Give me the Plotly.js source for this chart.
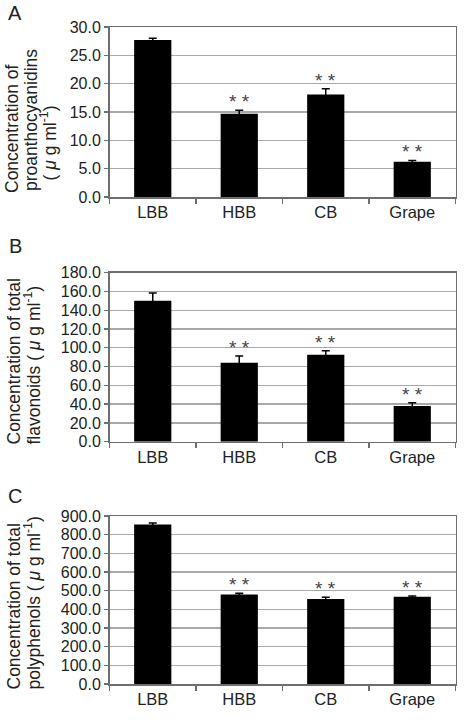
<!DOCTYPE html>
<html>
<head>
<meta charset="utf-8">
<script src="https://cdn.plot.ly/plotly-3.0.1.min.js"></script>
<style>
  html, body { margin: 0; padding: 0; background: #fff; }
  #chart { width: 465px; height: 723px; }
</style>
</head>
<body>
<div id="chart"></div>
<script>
// Sample groups
const categories = ['LBB', 'HBB', 'CB', 'Grape'];

// A: proanthocyanidins (µg/ml), mean and SD
const proanthocyanidins   = [27.7, 14.7, 18.1, 6.2];
const proanthocyanidinsSD = [0.3, 0.6, 1.0, 0.25];

// B: total flavonoids (µg/ml)
const flavonoids   = [150.2, 84.1, 92.7, 38.0];
const flavonoidsSD = [8.3, 7.2, 4.2, 3.5];

// C: total polyphenols (µg/ml)
const polyphenols   = [855, 480, 455, 467];
const polyphenolsSD = [8, 6, 10, 5];

// Significance markers vs. LBB
const significance = ['', '**', '**', '**'];

// Panel letters and y-axis title lines
const unit = '( <i>\u03BC</i> g ml<sup>-1</sup>)';
const panelLetters = ['A', 'B', 'C'];
const titleLinesA = ['Concentration of', 'proanthocyanidins', unit];
const titleLinesB = ['Concentration of total', 'flavonoids ' + unit];
const titleLinesC = ['Concentration of total', 'polyphenols ' + unit];

// ---- layout helpers (pixel -> paper) ----
const W = 465, H = 723;
const px = x => x / W;
const py = y => 1 - y / H;

const FONT = 'Liberation Sans, Arial, sans-serif';
const AXIS = '#6e6e6e';
const GRID = '#a8a8a8';
const TEXT = '#222';

const panels = [
  { vals: proanthocyanidins, sd: proanthocyanidinsSD, max: 30,  dtick: 5,   top: 27,    bottom: 197,
    titles: titleLinesA, titleX: [12.5, 31, 48], titleStart: [195, 193, 183], letterY: 0 },
  { vals: flavonoids,        sd: flavonoidsSD,        max: 180, dtick: 20,  top: 272.7, bottom: 441.7,
    titles: titleLinesB, titleX: [13.5, 32], titleStart: [447, 447], letterY: 233 },
  { vals: polyphenols,       sd: polyphenolsSD,       max: 900, dtick: 100, top: 516,   bottom: 684,
    titles: titleLinesC, titleX: [13.5, 32], titleStart: [692, 692], letterY: 483.5 }
];

const xDomain = [px(109.5), px(455.5)];

const data = [];
const annotations = [];
const layout = {
  width: W, height: H,
  margin: { l: 0, r: 0, t: 0, b: 0 },
  paper_bgcolor: '#fff',
  plot_bgcolor: '#fff',
  showlegend: false,
  font: { family: FONT, color: TEXT },
  annotations: annotations
};

panels.forEach((p, i) => {
  const n = i === 0 ? '' : String(i + 1);
  const xa = 'x' + n, ya = 'y' + n;

  data.push({
    type: 'bar',
    x: categories,
    y: p.vals,
    xaxis: xa, yaxis: ya,
    width: 0.43,
    marker: { color: '#000', line: { width: 0 } },
    error_y: { type: 'data', array: p.sd, visible: true, color: '#000', thickness: 1.5, width: 4 },
    hoverinfo: 'x+y'
  });

  layout['xaxis' + n] = {
    domain: xDomain,
    anchor: ya,
    type: 'category',
    categoryorder: 'array',
    categoryarray: categories,
    range: [-0.5, 3.5],
    ticks: 'outside',
    tickson: 'boundaries',
    ticklen: 5,
    tickwidth: 1.3,
    tickcolor: AXIS,
    showline: true,
    linecolor: AXIS,
    linewidth: 1.5,
    mirror: true,
    showgrid: false,
    tickfont: { family: FONT, size: 16.5, color: TEXT },
    fixedrange: true
  };

  layout['yaxis' + n] = {
    domain: [py(p.bottom), py(p.top)],
    anchor: xa,
    range: [0, p.max],
    dtick: p.dtick,
    tick0: 0,
    tickformat: '.1f',
    ticks: 'outside',
    ticklen: 4,
    tickwidth: 1.3,
    tickcolor: AXIS,
    showline: true,
    linecolor: AXIS,
    linewidth: 1.5,
    mirror: true,
    showgrid: true,
    gridcolor: GRID,
    gridwidth: 1.3,
    zeroline: false,
    tickfont: { family: FONT, size: 16, color: TEXT },
    fixedrange: true
  };

  // significance asterisks above the error bars
  categories.forEach((c, k) => {
    if (!significance[k]) return;
    annotations.push({
      xref: xa, yref: ya,
      x: c, y: p.vals[k] + p.sd[k],
      text: '* *',
      showarrow: false,
      xanchor: 'center', yanchor: 'bottom',
      yshift: -4,
      font: { family: FONT, size: 19, color: '#444' }
    });
  });

  // rotated y-axis title, one annotation per line
  p.titles.forEach((t, k) => {
    annotations.push({
      xref: 'paper', yref: 'paper',
      x: px(p.titleX[k]), y: py(p.titleStart[k]),
      text: t,
      textangle: -90,
      showarrow: false,
      xanchor: 'center', yanchor: 'bottom',
      font: { family: FONT, size: 17.5, color: TEXT }
    });
  });

  // panel letter
  annotations.push({
    xref: 'paper', yref: 'paper',
    x: px(15), y: py(p.letterY),
    text: panelLetters[i],
    showarrow: false,
    xanchor: 'center', yanchor: 'top',
    font: { family: FONT, size: 20, color: TEXT }
  });
});

Plotly.newPlot('chart', data, layout, { displayModeBar: false, staticPlot: true });
</script>
</body>
</html>
